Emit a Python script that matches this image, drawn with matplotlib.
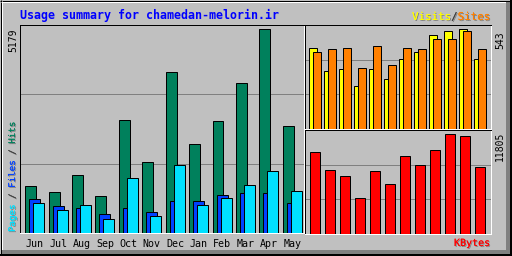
import matplotlib
matplotlib.use("Agg")
import matplotlib.pyplot as plt
import matplotlib.patheffects as pe
from matplotlib.lines import Line2D

meses = ["Jun", "Jul", "Aug", "Sep", "Oct", "Nov", "Dec", "Jan", "Feb", "Mar", "Apr", "May"]
hits = [1199, 1037, 1480, 944, 2883, 1811, 4107, 2271, 2857, 3827, 5179, 2730]
files = [867, 689, 638, 485, 638, 536, 816, 816, 969, 1020, 1020, 765]
pages = [765, 587, 714, 357, 1403, 434, 1735, 714, 893, 1225, 1582, 1071]
visits = [443, 316, 327, 233, 327, 271, 382, 421, 515, 532, 543, 382]
sites = [421, 438, 443, 332, 454, 349, 443, 438, 493, 488, 532, 438]
kbytes = [9757, 7589, 6866, 4216, 7468, 5902, 9275, 8191, 9997, 11805, 11563, 7950]

GRIS = "#C0C0C0"
MONO = "DejaVu Sans Mono"
W, H = 512, 256
px = 0.72  # un pixel en puntos

fig = plt.figure(figsize=(5.12, 2.56), dpi=100, facecolor=GRIS)

fondo = fig.add_axes([0, 0, 1, 1], zorder=-1)
fondo.set_xlim(0, W)
fondo.set_ylim(H, 0)
fondo.axis("off")

# marco exterior
for xs, ys, c, lw in [
    ([0.5, 0.5], [0, H], "black", 1),
    ([0, W], [0.5, 0.5], "black", 1),
    ([1.5, 1.5], [1, 254], "white", 1),
    ([1, 510], [1.5, 1.5], "white", 1),
    ([507.5, 507.5], [2, 250], "#808080", 4),
    ([2, 510], [251.5, 251.5], "#808080", 4),
    ([510.5, 510.5], [0, H], "black", 2),
    ([0, W], [254.5, 254.5], "black", 2),
]:
    fondo.add_line(Line2D(xs, ys, color=c, lw=lw * px, solid_capstyle="butt"))


def panel(x0, y0, x1, y1):
    ax = fig.add_axes([x0 / W, 1 - y1 / H, (x1 - x0) / W, (y1 - y0) / H])
    ax.set_facecolor(GRIS)
    for lado, c in [("top", "black"), ("left", "black"), ("bottom", "white"), ("right", "white")]:
        ax.spines[lado].set_color(c)
        ax.spines[lado].set_linewidth(px)
    ax.tick_params(length=0, labelleft=False, labelbottom=False)
    ax.set_axisbelow(True)
    return ax


def rejilla(ax, tope):
    ax.set_ylim(0, tope)
    ax.set_yticks([tope / 3, 2 * tope / 3])
    ax.yaxis.grid(True, color="#808080", lw=px)


borde = dict(edgecolor="black", linewidth=px, align="edge")
idx = list(range(12))

# panel principal: hits / files / pages
ax1 = panel(20, 25, 304, 233)
ax1.set_xlim(-0.226, 11.91)
rejilla(ax1, 5290)
ax1.bar([i for i in idx], hits, width=0.47, color="#00805C", **borde)
ax1.bar([i + 0.171 for i in idx], files, width=0.47, color="#0040FF", **borde)
ax1.bar([i + 0.342 for i in idx], pages, width=0.47, color="#00E0FF", **borde)
ax1.set_xticks([i + 0.406 for i in idx])
ax1.set_xticklabels(meses, family=MONO, fontsize=7.2)
ax1.tick_params(labelbottom=True, pad=4.5)

# visitas / sitios
ax2 = panel(305, 25, 491, 129)
ax2.set_xlim(-0.287, 12.11)
rejilla(ax2, 567)
ax2.bar(idx, visits, width=0.5, color="#FFFF00", **borde)
ax2.bar([i + 0.267 for i in idx], sites, width=0.5, color="#FF8000", **borde)

# kbytes
ax3 = panel(305, 130, 491, 234)
ax3.set_xlim(-0.353, 12.05)
rejilla(ax3, 12314)
ax3.bar(idx, kbytes, width=0.63, color="#FF0000", **borde)

sombra = [pe.withSimplePatchShadow(offset=(px, -px), shadow_rgbFace="#808080", alpha=1), pe.Normal()]


def avance(fs):
    # ancho de un caracter monoespaciado en pixeles
    return 0.602 * fs * 100 / 72


fondo.text(20, 15, "Usage summary for chamedan-melorin.ir", family=MONO, fontweight="bold",
           fontsize=8.4, color="#0000FF", va="center", ha="left")

a = avance(7.8)
for pos, s, c in [(0, "Visits", "#FFFF00"), (6, "/", "#404040"), (7, "Sites", "#FF8000")]:
    fondo.text(412 + pos * a, 17, s, family=MONO, fontsize=7.8, color=c, va="center", ha="left",
               path_effects=sombra)

a = avance(6.6)
for pos, s, c in [(0, "Pages", "#00E0FF"), (6, "/", "#404040"), (8, "Files", "#0040FF"),
                  (14, "/", "#404040"), (16, "Hits", "#00805C")]:
    fondo.text(12.5, 232 - pos * a, s, family=MONO, fontsize=6.6, color=c, rotation=90,
               rotation_mode="anchor", ha="left", va="center", path_effects=sombra)

fondo.text(13, 28, str(max(hits)), family=MONO, fontsize=7, rotation=90, ha="center", va="top")
fondo.text(500, 31, str(max(visits)), family=MONO, fontsize=7, rotation=90, ha="center", va="top")
fondo.text(500, 132, str(max(kbytes)), family=MONO, fontsize=7, rotation=90, ha="center", va="top")
fondo.text(490, 243, "KBytes", family=MONO, fontsize=7.2, color="#FF0000", ha="right", va="center",
           path_effects=sombra)

fig.savefig("out.png", dpi=100, facecolor=GRIS)
